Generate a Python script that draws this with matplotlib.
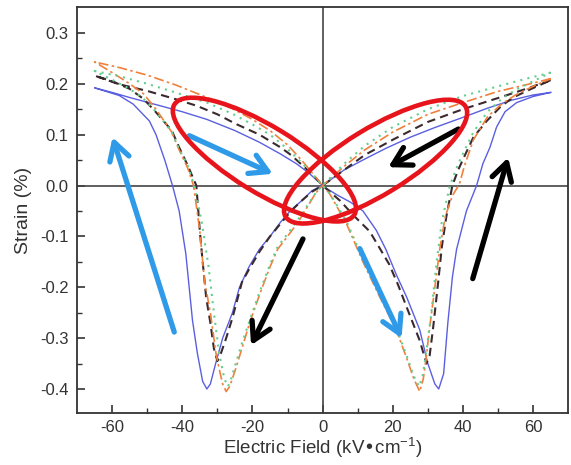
import matplotlib

matplotlib.use("Agg")

import matplotlib.pyplot as plt
from matplotlib.patches import Ellipse
from matplotlib.transforms import ScaledTranslation

matplotlib.rcParams["font.family"] = ["Liberation Sans", "DejaVu Sans"]
matplotlib.rcParams["font.size"] = 12
matplotlib.rcParams["axes.unicode_minus"] = False
matplotlib.rcParams["mathtext.default"] = "regular"

# butterfly loops, traced E: +65 -> 0 -> -65 -> 0 -> +65
blue_e = [65, 60, 54, 47, 40, 32, 25, 18, 12, 6, 2, 0,
          -3, -6, -9, -12, -15, -18, -21, -23.7, -25.7, -28.5, -30.5, -32, -33,
          -34.2, -35.7, -37.1, -39, -40.9, -42.8, -45, -47.5, -49.4, -54, -58, -65,
          -60, -55, -48, -40, -33, -25, -18, -12, -7.5, -4, 0,
          1, 4, 8, 11.5, 15.3, 18, 21, 24, 27.7, 30, 32, 33.1,
          34.5, 35.7, 37, 38.2, 41, 43.9, 45.7, 47.7, 49.6, 52, 55.3, 60, 65]
blue_s = [0.183, 0.178, 0.168, 0.152, 0.134, 0.114, 0.095, 0.073, 0.052, 0.03, 0.01, 0.0,
          -0.01, -0.03, -0.048, -0.072, -0.1, -0.125, -0.16, -0.2, -0.25, -0.3, -0.35, -0.39, -0.4,
          -0.385, -0.33, -0.265, -0.134, -0.05, 0.0, 0.05, 0.1, 0.127, 0.16, 0.177, 0.192,
          0.183, 0.173, 0.16, 0.145, 0.13, 0.108, 0.085, 0.062, 0.043, 0.025, 0.0,
          -0.005, -0.018, -0.033, -0.05, -0.088, -0.125, -0.175, -0.22, -0.284, -0.35, -0.39, -0.4,
          -0.37, -0.27, -0.18, -0.125, -0.05, 0.0, 0.043, 0.075, 0.115, 0.145, 0.163, 0.175, 0.183]

dash_e = [65, 58, 50, 40, 30, 20, 12, 6, 2, 0,
          -3, -6, -9, -12, -15, -18, -21, -23, -25.7, -27.5, -29, -30,
          -31, -32, -33.2, -34.2, -35, -36, -38.5, -40.9, -43, -47.5, -51, -55, -60, -65,
          -58, -50, -42, -36, -30, -24.7, -18, -12, -9, -5, -2, 0,
          2, 5, 9, 13.4, 16, 19, 21.5, 23.9, 26, 27.7, 29.6,
          30.5, 31.5, 32.9, 34, 35.3, 37, 38.6, 40.6, 43, 46.8, 50.6, 54, 58.2, 65]
dash_s = [0.207, 0.19, 0.172, 0.15, 0.125, 0.09, 0.06, 0.03, 0.01, 0.0,
          -0.012, -0.03, -0.05, -0.075, -0.1, -0.13, -0.165, -0.19, -0.26, -0.3, -0.33, -0.345,
          -0.32, -0.27, -0.22, -0.15, -0.09, 0.0, 0.04, 0.075, 0.108, 0.144, 0.17, 0.19, 0.205, 0.216,
          0.199, 0.186, 0.17, 0.157, 0.14, 0.121, 0.1, 0.075, 0.06, 0.035, 0.015, 0.0,
          -0.012, -0.03, -0.06, -0.09, -0.12, -0.155, -0.195, -0.238, -0.275, -0.305, -0.35,
          -0.335, -0.28, -0.193, -0.12, -0.06, 0.0, 0.03, 0.06, 0.095, 0.127, 0.154, 0.172, 0.186, 0.207]

orange_e = [65, 58, 50, 40, 30, 20, 12, 6, 2, 0,
            -2, -6.8, -10, -12.8, -15, -18, -20.8, -23, -25, -26.5, -27.5,
            -28.5, -29.5, -30.4, -32, -33.7, -35, -36.8, -38.5, -40.9, -43, -47.5, -51, -55, -60, -65,
            -58, -50, -42, -34, -26, -20, -15, -10, -6, -3, 0,
            2, 6.8, 11.5, 16, 21, 24, 26, 27.7,
            28.7, 29.5, 30.5, 32, 33.5, 35, 37, 39, 40.5, 43, 47, 51, 55, 60, 65]
orange_s = [0.21, 0.198, 0.185, 0.163, 0.14, 0.105, 0.07, 0.037, 0.012, 0.0,
            -0.015, -0.07, -0.1, -0.125, -0.16, -0.215, -0.27, -0.32, -0.365, -0.395, -0.405,
            -0.39, -0.36, -0.33, -0.25, -0.186, -0.09, 0.0, 0.035, 0.07, 0.105, 0.15, 0.18, 0.2, 0.222, 0.243,
            0.232, 0.217, 0.198, 0.176, 0.152, 0.13, 0.108, 0.08, 0.05, 0.025, 0.0,
            -0.016, -0.075, -0.15, -0.215, -0.284, -0.34, -0.38, -0.405,
            -0.38, -0.34, -0.28, -0.2, -0.12, -0.06, -0.02, 0.003, 0.04, 0.09, 0.135, 0.16, 0.178, 0.195, 0.21]

green_e = [65, 58, 50, 40, 30, 20, 12, 6, 2, 0,
           -2, -6.8, -10, -12.8, -15, -18, -20.8, -23, -25, -26.3, -27,
           -28, -29.5, -31, -32.5, -34.5, -36.6, -38.5, -40.9, -43, -47.5, -51, -55, -60, -65,
           -58, -50, -42, -33, -25.7, -20, -15, -10, -6, -3, 0,
           2, 6.8, 11.5, 16, 21, 24, 26, 27.5,
           28.5, 29.5, 31, 32.5, 34, 36.3, 38.5, 40.5, 43, 47, 51, 55, 60, 65]
green_s = [0.222, 0.21, 0.195, 0.176, 0.15, 0.115, 0.078, 0.042, 0.014, 0.0,
           -0.015, -0.065, -0.095, -0.12, -0.155, -0.21, -0.265, -0.31, -0.355, -0.385, -0.395,
           -0.38, -0.33, -0.25, -0.16, -0.07, 0.0, 0.04, 0.072, 0.105, 0.145, 0.17, 0.19, 0.208, 0.225,
           0.215, 0.2, 0.183, 0.163, 0.141, 0.12, 0.1, 0.072, 0.045, 0.022, 0.0,
           -0.015, -0.07, -0.145, -0.21, -0.28, -0.335, -0.375, -0.395,
           -0.375, -0.33, -0.25, -0.15, -0.07, 0.0, 0.04, 0.07, 0.105, 0.145, 0.17, 0.188, 0.205, 0.222]

# arrows: (tail, head) in data units
blue_arrows = [((-42.3, -0.288), (-59.9, 0.095)),
               ((-38.0, 0.098), (-14.2, 0.023)),
               ((10.6, -0.124), (22.5, -0.30))]
black_arrows = [((38.7, 0.111), (18.7, 0.036)),
                ((-5.6, -0.105), (-20.4, -0.314)),
                ((42.8, -0.183), (52.9, 0.055))]

# highlighted regions: centre (data), angle (deg)
ellipse_centres = [(-16.6, 0.051), (15.1, 0.047)]
ellipse_angles = [-31.5, 31.5]

fig = plt.figure(figsize=(5.71, 4.65), dpi=100)
ax = fig.add_axes([0.135, 0.112, 0.86, 0.873])

ax.plot(blue_e, blue_s, color="#5a5fe0", lw=1.0, zorder=3)
ax.plot(dash_e, dash_s, color="#3a2a2e", lw=1.5, linestyle=(0, (4, 2.5)), zorder=4)
ax.plot(orange_e, orange_s, color="#f0803c", lw=1.2, linestyle=(0, (6, 2, 1.5, 2)), zorder=4)
ax.plot(green_e, green_s, color="#62cf8f", lw=1.5, linestyle=(0, (1, 2.5)), zorder=4)

ax.axhline(0, color="#444444", lw=1.2, zorder=2)
ax.axvline(0, color="#444444", lw=1.2, zorder=2)

for tail, head in blue_arrows:
    ax.annotate("", xy=head, xytext=tail, zorder=6,
                arrowprops=dict(arrowstyle="->,head_length=0.7,head_width=0.4",
                                color="#2f9be8", lw=3.8, shrinkA=0, shrinkB=0,
                                mutation_scale=18))
for tail, head in black_arrows:
    ax.annotate("", xy=head, xytext=tail, zorder=6,
                arrowprops=dict(arrowstyle="->,head_length=0.7,head_width=0.4",
                                color="black", lw=3.8, shrinkA=0, shrinkB=0,
                                mutation_scale=18))

for (cx, cy), ang in zip(ellipse_centres, ellipse_angles):
    ell = Ellipse((0, 0), width=2.11, height=0.66, angle=ang, fill=False,
                  edgecolor="#e8141c", lw=3.3, zorder=7,
                  transform=fig.dpi_scale_trans + ScaledTranslation(cx, cy, ax.transData))
    ax.add_patch(ell)

ax.set_xlim(-70, 70)
ax.set_ylim(-0.447, 0.351)
ax.set_xticks([-60, -40, -20, 0, 20, 40, 60])
ax.set_xticks([-50, -30, -10, 10, 30, 50], minor=True)
ax.set_yticks([-0.4, -0.3, -0.2, -0.1, 0.0, 0.1, 0.2, 0.3])
ax.set_yticks([-0.35, -0.25, -0.15, -0.05, 0.05, 0.15, 0.25], minor=True)
ax.set_yticklabels([f"{v:.1f}" for v in [-0.4, -0.3, -0.2, -0.1, 0.0, 0.1, 0.2, 0.3]])
ax.tick_params(which="major", direction="in", length=6, width=1.2, colors="#333333")
ax.tick_params(which="minor", direction="in", length=3.5, width=1.0, colors="#333333")
ax.tick_params(axis="x", pad=5)
ax.tick_params(axis="y", pad=6)
ax.tick_params(labelcolor="#333333", labelsize=12)
for sp in ax.spines.values():
    sp.set_color("#333333")
    sp.set_linewidth(1.3)

ax.set_xlabel("Electric Field (kV\u2022cm$^{-1}$)", color="#333333", fontsize=13.5, labelpad=1)
ax.set_ylabel("Strain (%)", color="#333333", fontsize=14, labelpad=6)

fig.savefig("out.png", dpi=100)
